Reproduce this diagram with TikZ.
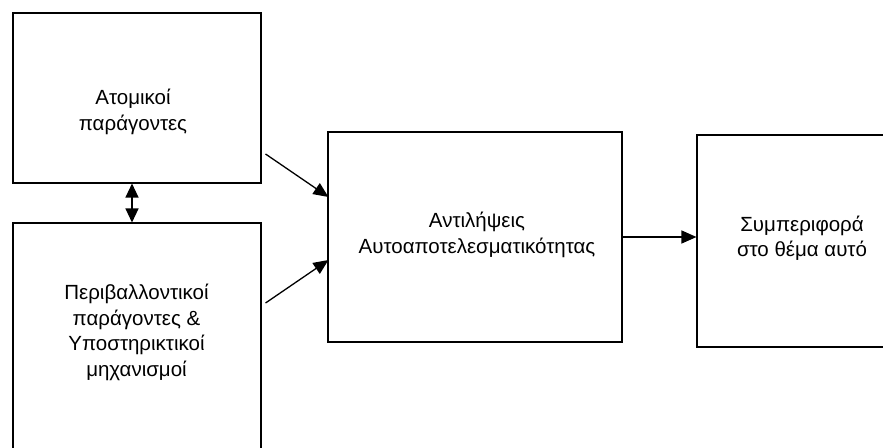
\documentclass[tikz,border=0pt]{standalone}
\usepackage{fontspec}
\setmainfont{Liberation Sans}
\usetikzlibrary{arrows.meta}
\tikzset{
  box/.style={draw, line width=1.1pt, inner sep=0pt},
  lbl/.style={align=center, inner sep=0pt, font=\fontsize{20.5pt}{25.5pt}\selectfont},
  arr/.style={line width=1.3pt, -{Triangle[length=15pt,width=13pt]}},
  darr/.style={line width=1.3pt, {Triangle[length=14pt,width=13pt]}-{Triangle[length=14pt,width=13pt]}}
}
\begin{document}
\begin{tikzpicture}[x=1pt,y=-1pt]
\useasboundingbox (0,0) rectangle (883,447);
\clip (0,0) rectangle (883,447);
\fill[white] (0,0) rectangle (883,447);
% boxes
\node[box, minimum width=248pt, minimum height=170pt] (b1) at (137,98) {};
\node[box, minimum width=248pt, minimum height=247pt] (b2) at (137,346.5) {};
\node[box, minimum width=294pt, minimum height=210pt] (b3) at (475,237) {};
\node[box, minimum width=203pt, minimum height=212pt] (b4) at (798.5,241) {};
% texts
\node[lbl] (t1) at (133,112) {Ατομικοί\\παράγοντες};
\node[lbl] (t2) at (136.5,332.5) {Περιβαλλοντικοί\\παράγοντες \&\\Υποστηρικτικοί\\μηχανισμοί};
\node[lbl] (t3) at (477,235) {Αντιλήψεις\\Αυτοαποτελεσματικότητας};
\node[lbl] (t4) at (802,238) {Συμπεριφορά\\στο θέμα αυτό};
% connectors
\draw[darr] ([xshift=-5pt]b1.south) -- ([xshift=-5pt]b2.north);
\draw[arr] ([xshift=4pt,yshift=-56pt]b1.east) -- ([xshift=1pt,yshift=40pt]b3.west);
\draw[arr] ([xshift=4pt,yshift=43.5pt]b2.east) -- ([xshift=1pt,yshift=-23pt]b3.west);
\draw[arr] (b3.east) -- (b3.east -| b4.west);
\end{tikzpicture}
\end{document}
